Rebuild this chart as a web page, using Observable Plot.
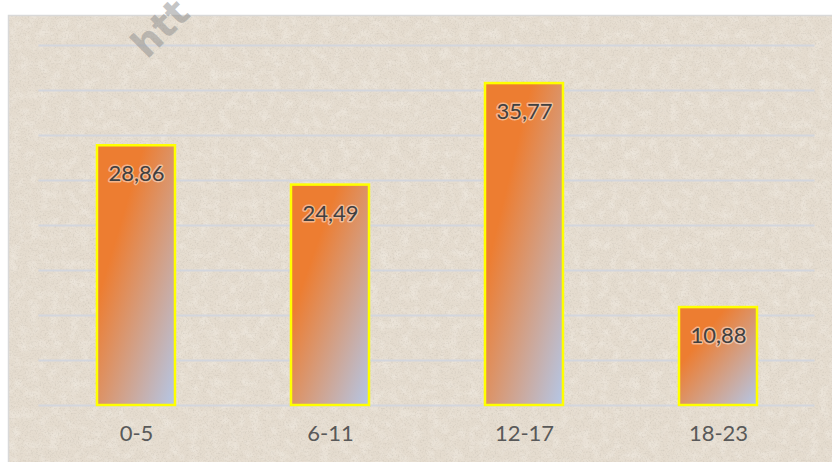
<!DOCTYPE html>
<html>
<head>
<meta charset="utf-8">
<script src="https://cdn.jsdelivr.net/npm/d3@7"></script>
<script src="https://cdn.jsdelivr.net/npm/@observablehq/plot@0.6"></script>
<style>
  html, body { margin: 0; padding: 0; background: #ffffff; }
  #chart { width: 832px; height: 462px; }
</style>
</head>
<body>
<div id="chart"></div>
<script>
// Data
const categories = ["0-5", "6-11", "12-17", "18-23"];
const values = [28.86, 24.49, 35.77, 10.88];
const yTicks = [0, 5, 10, 15, 20, 25, 30, 35, 40];

const data = categories.map((c, i) => ({category: c, value: values[i]}));
const fmt = v => v.toFixed(2).replace(".", ",");
const font = "Lato, 'Open Sans', sans-serif";

const chart = Plot.plot({
  width: 832,
  height: 462,
  marginLeft: 38.5,
  marginRight: 17.5,
  marginTop: 45,
  marginBottom: 57,
  style: {fontFamily: font, background: "transparent", overflow: "visible"},
  x: {domain: categories, paddingInner: 0.6, paddingOuter: 0.3, axis: null},
  y: {domain: [0, 40], axis: null},
  marks: [
    () => {
      const ns = "http://www.w3.org/2000/svg";
      const defs = document.createElementNS(ns, "defs");
      defs.innerHTML = `
        <linearGradient id="barGrad" x1="0" y1="0" x2="1" y2="1">
          <stop offset="0" stop-color="#ED7D31"/>
          <stop offset="0.3" stop-color="#ED7D31"/>
          <stop offset="1" stop-color="#B4C7E7"/>
        </linearGradient>`;
      return defs;
    },
    Plot.ruleY(yTicks, {stroke: "#d3d6dd", strokeWidth: 2}),
    Plot.barY(data, {
      x: "category",
      y: "value",
      fill: "url(#barGrad)",
      stroke: "#FFFF00",
      strokeWidth: 2.5
    }),
    Plot.text(data, {
      x: "category",
      y: "value",
      text: d => fmt(d.value),
      dy: 28.5,
      fontSize: 22,
      fill: "#404040",
      stroke: "white",
      strokeOpacity: 0.45,
      strokeWidth: 3
    }),
    Plot.text(categories, {
      x: d => d,
      frameAnchor: "bottom",
      dy: 35,
      fontSize: 22,
      fill: "#595959"
    })
  ]
});

// Paper-like background behind the plot
const svg = d3.select(chart);
const bg = svg.insert("g", ":first-child");
const defs = bg.append("defs");
defs.html(`
  <filter id="speckle" x="0" y="0" width="1" height="1">
    <feTurbulence type="fractalNoise" baseFrequency="0.6" numOctaves="2" seed="7" result="n"/>
    <feColorMatrix in="n" type="matrix"
      values="0 0 0 0 0.5  0 0 0 0 0.46  0 0 0 0 0.4  2.6 0 0 0 -1.25"/>
  </filter>
  <filter id="blotch" x="0" y="0" width="1" height="1">
    <feTurbulence type="fractalNoise" baseFrequency="0.1" numOctaves="3" seed="3" result="n"/>
    <feColorMatrix in="n" type="matrix"
      values="0 0 0 0 0.98  0 0 0 0 0.96  0 0 0 0 0.92  1.3 0 0 0 -0.55"/>
  </filter>
  <filter id="shade" x="0" y="0" width="1" height="1">
    <feTurbulence type="fractalNoise" baseFrequency="0.25" numOctaves="2" seed="19" result="n"/>
    <feColorMatrix in="n" type="matrix"
      values="0 0 0 0 0.75  0 0 0 0 0.7  0 0 0 0 0.62  1.5 0 0 0 -0.7"/>
  </filter>
`);
const W = 824, H = 447;
bg.append("rect").attr("x", 8).attr("y", 15).attr("width", W).attr("height", H).attr("fill", "#e5dccf");
bg.append("rect").attr("x", 8).attr("y", 15).attr("width", W).attr("height", H).attr("fill", "#fff").attr("filter", "url(#blotch)").attr("opacity", 0.55);
bg.append("rect").attr("x", 8).attr("y", 15).attr("width", W).attr("height", H).attr("fill", "#fff").attr("filter", "url(#shade)").attr("opacity", 0.3);
bg.append("rect").attr("x", 8).attr("y", 15).attr("width", W).attr("height", H).attr("fill", "#fff").attr("filter", "url(#speckle)").attr("opacity", 0.35);
bg.append("rect").attr("x", 8.5).attr("y", 15.5).attr("width", 830).attr("height", 460)
  .attr("fill", "none").attr("stroke", "#d9d9d9").attr("stroke-width", 1.5);

// Watermark
svg.append("text")
  .attr("transform", "translate(147,60) rotate(-45)")
  .attr("text-anchor", "start")
  .attr("font-family", "'DejaVu Sans', sans-serif")
  .attr("font-weight", "bold")
  .attr("font-size", 38)
  .attr("fill", "#8c8c8c")
  .attr("fill-opacity", 0.5)
  .text("htt");

document.getElementById("chart").appendChild(chart);
</script>
</body>
</html>
